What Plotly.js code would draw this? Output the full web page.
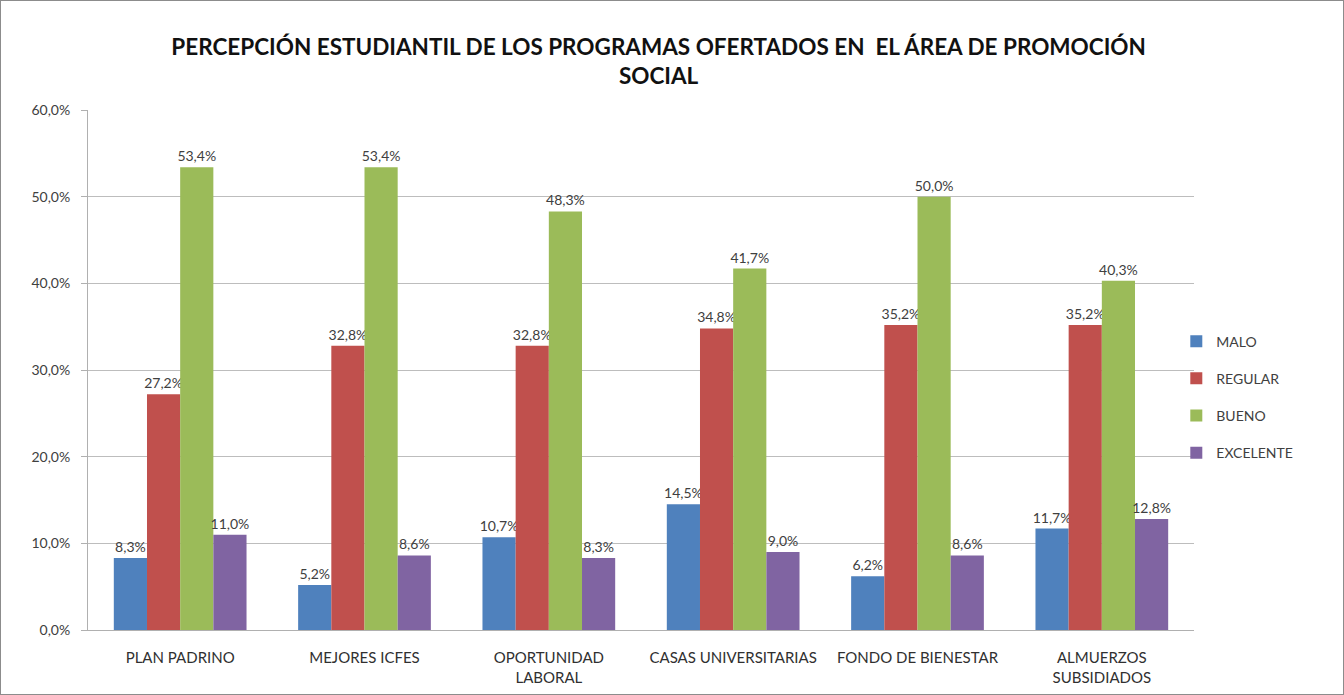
<!DOCTYPE html>
<html>
<head>
<meta charset="utf-8">
<script src="https://cdn.plot.ly/plotly-3.0.1.min.js"></script>
<style>
html,body{margin:0;padding:0;background:#fff;}
#chart{width:1344px;height:695px;box-sizing:border-box;border:1px solid #8c8c8c;}
</style>
</head>
<body>
<div id="chart"></div>
<script>
const categories = ["PLAN PADRINO", "MEJORES ICFES", "OPORTUNIDAD<br>LABORAL", "CASAS UNIVERSITARIAS", "FONDO DE BIENESTAR", "ALMUERZOS<br>SUBSIDIADOS"];
const seriesNames = ["MALO", "REGULAR", "BUENO", "EXCELENTE"];
const malo = [8.3, 5.2, 10.7, 14.5, 6.2, 11.7];
const regular = [27.2, 32.8, 32.8, 34.8, 35.2, 35.2];
const bueno = [53.4, 53.4, 48.3, 41.7, 50.0, 40.3];
const excelente = [11.0, 8.6, 8.3, 9.0, 8.6, 12.8];
const yTicks = [0, 10, 20, 30, 40, 50, 60];
const yTickText = yTicks.map(v => v.toFixed(1).replace('.', ',') + '%');
const colors = ["#4F81BD", "#C0504D", "#9BBB59", "#8064A2"];

const FONT = 'Lato, "Open Sans", sans-serif';
const values = [malo, regular, bueno, excelente];
const traces = values.map((v, i) => ({
  type: 'bar',
  name: seriesNames[i],
  legendgroup: 'g' + i,
  x: categories,
  y: v,
  marker: {color: colors[i]},
  texttemplate: '%{y:.1f}%',
  textposition: 'outside',
  constraintext: 'none',
  cliponaxis: false,
  textfont: {family: FONT, size: 14, color: '#404040'},
  hoverinfo: 'skip'
}));

const layout = {
  width: 1342, height: 693,
  margin: {l: 87, r: 149, t: 109, b: 64},
  paper_bgcolor: '#fff', plot_bgcolor: '#fff',
  separators: ',.',
  font: {family: FONT, size: 13, color: '#404040'},
  title: {
    text: 'PERCEPCIÓN ESTUDIANTIL DE LOS PROGRAMAS OFERTADOS EN  EL ÁREA DE PROMOCIÓN<br>SOCIAL',
    font: {family: FONT, size: 22.5, color: '#111', weight: 'bold'},
    x: 0.49, xanchor: 'center', y: 0.922, yanchor: 'top'
  },
  barmode: 'group',
  bargap: 0.28,
  bargroupgap: 0,
  showlegend: true,
  legend: {
    x: 0.984, xanchor: 'left', y: 0.448, yanchor: 'middle',
    bgcolor: 'rgba(0,0,0,0)',
    font: {family: FONT, size: 14, color: '#404040'},
    itemwidth: 30,
    tracegroupgap: 16,
    traceorder: 'grouped'
  },
  xaxis: {
    tickfont: {family: FONT, size: 15, color: '#303030'},
    showline: true, linecolor: '#b0b0b0', linewidth: 1,
    ticks: '', showgrid: false,
    ticklabelstandoff: 14
  },
  yaxis: {
    range: [0, 60],
    tickmode: 'array',
    tickvals: yTicks,
    ticktext: yTickText,
    tickfont: {family: FONT, size: 14, color: '#404040'},
    showgrid: true, gridcolor: '#bdbdbd', gridwidth: 1,
    showline: true, linecolor: '#b0b0b0', linewidth: 1,
    ticks: 'outside', ticklen: 6, tickcolor: '#b0b0b0',
    ticklabelstandoff: 8,
    zeroline: false
  }
};

Plotly.newPlot('chart', traces, layout, {displayModeBar: false, staticPlot: true});
</script>
</body>
</html>
